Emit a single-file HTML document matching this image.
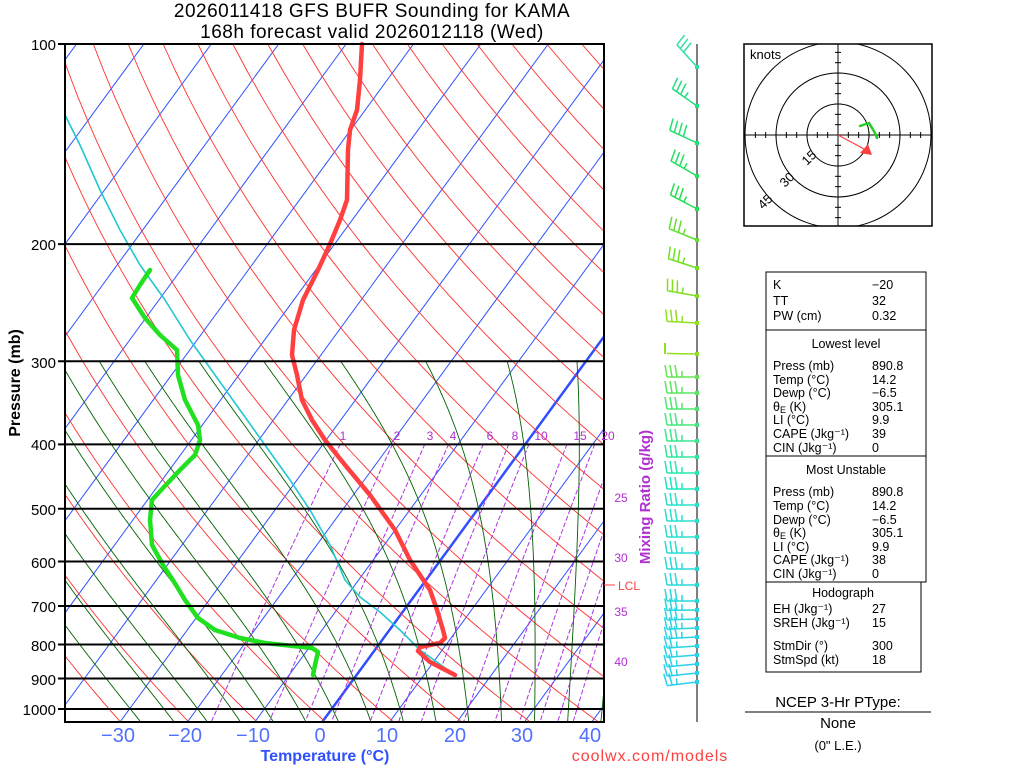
<!DOCTYPE html>
<html><head><meta charset="utf-8"><style>
body{margin:0;background:#fff;width:1024px;height:768px;overflow:hidden;font-family:"Liberation Sans",sans-serif}
svg{position:absolute;left:0;top:0}
</style></head><body>
<svg id="s" width="1024" height="768" xmlns="http://www.w3.org/2000/svg">
<defs><clipPath id="c"><rect x="65" y="44" width="539" height="678"/></clipPath></defs>
<rect width="1024" height="768" fill="#fff"/>
<g id="bg" clip-path="url(#c)"></g>
<g id="fg"></g>
<text x="372" y="17" font-size="19" text-anchor="middle" fill="#000" style="letter-spacing:0.5px">2026011418 GFS BUFR Sounding for KAMA</text>
<text x="372" y="38" font-size="19" text-anchor="middle" fill="#000" style="letter-spacing:0.5px">168h forecast valid 2026012118 (Wed)</text>
<text transform="translate(20,383) rotate(-90)" font-size="16" font-weight="bold" text-anchor="middle">Pressure (mb)</text>
<text transform="translate(650,497) rotate(-90)" font-size="15" font-weight="bold" text-anchor="middle" fill="#b030d0">Mixing Ratio (g/kg)</text>
<text x="325" y="761" font-size="16" font-weight="bold" text-anchor="middle" fill="#3050ff">Temperature (°C)</text>
<text x="650" y="761" font-size="16" text-anchor="middle" fill="#ff4040" style="letter-spacing:1px">coolwx.com/models</text>
<g font-size="20" fill="#5070ff" text-anchor="middle">
<text x="118" y="742">−30</text><text x="185" y="742">−20</text><text x="253" y="742">−10</text><text x="320" y="742">0</text><text x="387" y="742">10</text><text x="455" y="742">20</text><text x="522" y="742">30</text><text x="590" y="742">40</text>
</g>
<g font-size="15" text-anchor="end" fill="#000">
<text x="56" y="50">100</text><text x="56" y="250">200</text><text x="56" y="368">300</text><text x="56" y="450">400</text><text x="56" y="515">500</text><text x="56" y="568">600</text><text x="56" y="612">700</text><text x="56" y="651">800</text><text x="56" y="685">900</text><text x="56" y="715">1000</text>
</g>
<g font-size="12" fill="#b030d0" text-anchor="middle">
<text x="621" y="502">25</text><text x="621" y="562">30</text><text x="621" y="616">35</text><text x="621" y="666">40</text>
<text x="343" y="440">1</text><text x="397" y="440">2</text><text x="430" y="440">3</text><text x="453" y="440">4</text><text x="490" y="440">6</text><text x="515" y="440">8</text><text x="541" y="440">10</text><text x="580" y="440">15</text><text x="608" y="440">20</text>
</g>
<line x1="604" y1="585" x2="615" y2="585" stroke="#ff4040"/>
<text x="618" y="590" font-size="12" fill="#ff4040">LCL</text>
<g id="hodo"></g>
<g font-family="Liberation Sans,sans-serif" font-size="12.5" fill="#000">
<rect x="766" y="272" width="160" height="310" fill="none" stroke="#000"/>
<line x1="766" y1="330" x2="926" y2="330" stroke="#000"/>
<line x1="766" y1="456" x2="926" y2="456" stroke="#000"/>
<rect x="766" y="582" width="155" height="90" fill="none" stroke="#000"/>
<text x="773" y="289">K</text><text x="872" y="289">−20</text>
<text x="773" y="305">TT</text><text x="872" y="305">32</text>
<text x="773" y="320">PW (cm)</text><text x="872" y="320">0.32</text>
<text x="846" y="348" text-anchor="middle">Lowest level</text>
<text x="773" y="370">Press (mb)</text><text x="872" y="370">890.8</text>
<text x="773" y="384">Temp (°C)</text><text x="872" y="384">14.2</text>
<text x="773" y="397">Dewp (°C)</text><text x="872" y="397">−6.5</text>
<text x="773" y="411">θ<tspan font-size="9" dy="2">E</tspan><tspan dy="-2"> (K)</tspan></text><text x="872" y="411">305.1</text>
<text x="773" y="424">LI (°C)</text><text x="872" y="424">9.9</text>
<text x="773" y="438">CAPE (Jkg⁻¹)</text><text x="872" y="438">39</text>
<text x="773" y="452">CIN (Jkg⁻¹)</text><text x="872" y="452">0</text>
<text x="846" y="474" text-anchor="middle">Most Unstable</text>
<text x="773" y="496">Press (mb)</text><text x="872" y="496">890.8</text>
<text x="773" y="510">Temp (°C)</text><text x="872" y="510">14.2</text>
<text x="773" y="524">Dewp (°C)</text><text x="872" y="524">−6.5</text>
<text x="773" y="537">θ<tspan font-size="9" dy="2">E</tspan><tspan dy="-2"> (K)</tspan></text><text x="872" y="537">305.1</text>
<text x="773" y="551">LI (°C)</text><text x="872" y="551">9.9</text>
<text x="773" y="564">CAPE (Jkg⁻¹)</text><text x="872" y="564">38</text>
<text x="773" y="578">CIN (Jkg⁻¹)</text><text x="872" y="578">0</text>
<text x="843" y="597" text-anchor="middle">Hodograph</text>
<text x="773" y="613">EH (Jkg⁻¹)</text><text x="872" y="613">27</text>
<text x="773" y="627">SREH (Jkg⁻¹)</text><text x="872" y="627">15</text>
<text x="773" y="650">StmDir (°)</text><text x="872" y="650">300</text>
<text x="773" y="664">StmSpd (kt)</text><text x="872" y="664">18</text>
<text x="838" y="707" font-size="15" text-anchor="middle">NCEP 3-Hr PType:</text>
<line x1="745" y1="712" x2="931" y2="712" stroke="#000"/>
<text x="838" y="728" font-size="15" text-anchor="middle">None</text>
<text x="838" y="750" font-size="13" text-anchor="middle">(0" L.E.)</text>
</g>
</svg>
<script>
var NS="http://www.w3.org/2000/svg";
function el(p,t,a){var e=document.createElementNS(NS,t);for(var k in a)e.setAttribute(k,a[k]);p.appendChild(e);return e;}
var bg=document.getElementById('bg'),fg=document.getElementById('fg'),hodo=document.getElementById('hodo');
function Y(p){return 44+288.8*Math.log(p/100);}
function X(T,p){return 323+6.74*T+0.73*(722-Y(p));}
function poly(g,pts,st,w,extra){var a={points:pts.map(function(q){return q[0].toFixed(1)+","+q[1].toFixed(1)}).join(" "),fill:"none",stroke:st,"stroke-width":w,"stroke-linejoin":"round","stroke-linecap":"round"};for(var k in extra)a[k]=extra[k];return el(g,"polyline",a);}
for(var T=-160;T<=60;T+=10){poly(bg,[[X(T,1050),722],[X(T,100),44]],"#3050ff",T==0?2.5:1);}
for(var th=230;th<=500;th+=10){var pts=[];for(var p=100;p<=1060;p+=10){var t=th*Math.pow(p/1000,0.286)-273.15;pts.push([X(t,p),Y(p)]);}poly(bg,pts,"#ff3030",0.9);}
function es(t){return 6.112*Math.exp(17.67*t/(t+243.5));}
function dTdp(TK,p){var rs=0.622*es(TK-273.15)/(p-es(TK-273.15));var Lv=2.5e6,Rd=287,Cp=1004;return (Rd*TK+Lv*rs)/(p*(Cp+Lv*Lv*rs*0.622/(Rd*TK*TK)));}
for(var tw=-30;tw<=40;tw+=5){var pts=[],Td=tw+273.15,pp;
 for(pp=1000;pp<1050;pp+=2){Td+=dTdp(Td,pp)*2;}
 var TK=Td;for(pp=1050;pp>=300;pp-=2){pts.push([X(TK-273.15,pp),Y(pp)]);TK-=dTdp(TK,pp)*2;}
 poly(bg,pts,"#006000",0.9);}
[1,2,3,4,6,8,10,15,20,25,30,35,40].forEach(function(w){var pts=[];for(var p=400;p<=1060;p+=10){var e=w*p/(622+w);var l=Math.log(e/6.112);var t=243.5*l/(17.67-l);pts.push([X(t,p),Y(p)]);}
 poly(bg,pts,"#b030e0",1,{"stroke-dasharray":"4,3"});});
var tp=[[362,44],[360,80],[357,110],[350,130],[348,150],[347,200],[340,220],[330,244],[318,270],[303,300],[294,330],[292,355],[297,375],[302,400],[312,420],[325,440],[345,465],[370,495],[395,530],[410,560],[430,590],[437,610],[443,630],[445,638],[440,643],[420,647],[418,651],[430,662],[455,675]];
var dp=[[150,270],[140,285],[132,298],[145,318],[160,335],[177,350],[178,375],[185,400],[198,425],[200,440],[195,455],[180,470],[163,488],[152,500],[150,520],[152,545],[163,565],[176,585],[185,600],[198,618],[215,630],[240,638],[265,643],[312,648],[318,652],[315,665],[313,675]];
var pc=[[65,115],[80,145],[100,190],[120,230],[140,265],[165,300],[190,340],[215,375],[240,410],[265,445],[290,480],[310,510],[330,545],[345,580],[360,597],[380,612],[400,630],[420,650],[455,675]];
poly(fg,pc,"#20c8d0",1.6);poly(fg,tp,"#ff4040",4.5);poly(fg,dp,"#20e020",4.5);
[100,200,300,400,500,600,700,800,900,1000].forEach(function(p){var y=Y(p);el(fg,"line",{x1:58,y1:y,x2:604,y2:y,stroke:"#000","stroke-width":2});});
el(fg,"rect",{x:65,y:44,width:539,height:678,fill:"none",stroke:"#000","stroke-width":2});
el(fg,"line",{x1:697,y1:44,x2:697,y2:722,stroke:"#555","stroke-width":1.5});
function barb(y,ang,n,half,col){var a=ang*Math.PI/180;var ux=-Math.cos(a),uy=-Math.sin(a);var L=30;var tx=697+ux*L,ty=y+uy*L;
 el(fg,"line",{x1:697,y1:y,x2:tx,y2:ty,stroke:col,"stroke-width":1.5});
 var fx=uy,fy=-ux; if(fy>0){fx=-fx;fy=-fy;}
 for(var i=0;i<n;i++){var bx=tx-ux*i*5,by=ty-uy*i*5;el(fg,"line",{x1:bx,y1:by,x2:bx+fx*12+ux*2,y2:by+fy*12+uy*2,stroke:col,"stroke-width":1.5});}
 if(half){var bx=tx-ux*n*5,by=ty-uy*n*5;el(fg,"line",{x1:bx,y1:by,x2:bx+fx*6,y2:by+fy*6,stroke:col,"stroke-width":1.5});}
 el(fg,"rect",{x:695,y:y-2,width:4,height:4,fill:col});}
var up=[[67,48,"#30e0a0",3,0],[106,35,"#20e080",3,1],[143,25,"#20e070",4,0],[176,30,"#20e060",3,1],[209,28,"#20e050",3,1],[240,22,"#60e030",3,1],[268,18,"#70e020",3,1],[296,10,"#80e020",3,1],[323,3,"#90e020",3,1],[354,1,"#90e020",0,0]];
up.forEach(function(b){barb(b[0],b[1],b[3],b[4],b[2]);});
el(fg,"line",{x1:665,y1:343,x2:665,y2:354,stroke:"#90e020","stroke-width":2});
for(var y=377;y<=682;){var f=(y-377)/305;var col=f<0.4?"rgb("+Math.round(100-f*200)+",230,"+Math.round(80+f*300)+")":"rgb(40,"+Math.round(225-(f-0.4)*30)+","+Math.round(200+(f-0.4)*60)+")";
 var ang=y<600?0:-(y-600)/12;barb(y,ang,y<640?3:2,1,col);y+=y<600?16:9;}
var cx=838,cy=135;
el(hodo,"rect",{x:744,y:44,width:188,height:182,fill:"#fff",stroke:"#000","stroke-width":1.5});
var cp=el(hodo,"clipPath",{id:"hc"});el(cp,"rect",{x:744,y:44,width:188,height:182});
var hg=el(hodo,"g",{"clip-path":"url(#hc)"});
[31,62,93].forEach(function(r){el(hg,"circle",{cx:cx,cy:cy,r:r,fill:"none",stroke:"#000","stroke-width":1});});
el(hg,"line",{x1:744,y1:cy,x2:932,y2:cy,stroke:"#000"});el(hg,"line",{x1:cx,y1:44,x2:cx,y2:226,stroke:"#000"});
for(var k=-9;k<=9;k++){if(!k)continue;var d=k*10.33;el(hg,"line",{x1:cx+d,y1:cy-3,x2:cx+d,y2:cy+3,stroke:"#000"});el(hg,"line",{x1:cx-3,y1:cy+d,x2:cx+3,y2:cy+d,stroke:"#000"});}
var kt=el(hodo,"text",{x:750,y:59,"font-size":13});kt.textContent="knots";
[[15,31],[30,62],[45,93]].forEach(function(l){var d=l[1]*0.707;var t=el(hodo,"text",{transform:"translate("+(cx-d-4)+","+(cy+d+4)+") rotate(-45)","font-size":13,"text-anchor":"middle"});t.textContent=l[0];});
el(hodo,"line",{x1:cx,y1:cy,x2:866,y2:150,stroke:"#ff4040","stroke-width":1.2});
el(hodo,"polygon",{points:"872,155 860,153 868,144",fill:"#ff4040"});
poly(hodo,[[860,126],[869,123],[875,133],[877,138]],"#20d020",2.5);
</script>
</body></html>
